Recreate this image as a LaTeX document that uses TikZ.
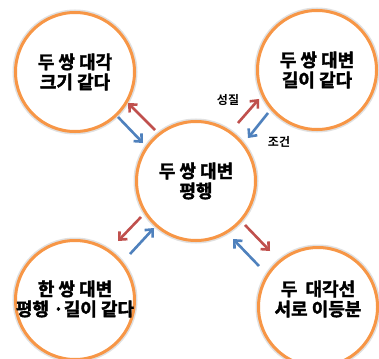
\documentclass[tikz,border=0pt]{standalone}
\usepackage{fontspec}
\newfontfamily\krb{Noto Sans CJK KR Bold}[FakeBold=2]
\newfontfamily\krm{Noto Sans CJK KR Bold}
\usetikzlibrary{arrows.meta}
\definecolor{ring}{HTML}{F79646}
\definecolor{redarr}{HTML}{C0504D}
\definecolor{bluearr}{HTML}{4F81BD}
\tikzset{
  bubble/.style={circle, draw=ring, line width=3pt, fill=white, minimum size=119pt, inner sep=0pt,
    align=center, font=\krb\fontsize{18}{20}\selectfont,
    preaction={draw=black!12, line width=6pt}},
  btext/.style={align=center, font=\krb\fontsize{18}{20}\selectfont, inner sep=0pt},
  prop/.style={draw=redarr, line width=2.6pt, -{Straight Barb[length=6pt,width=11pt,line width=2.6pt]}},
  cond/.style={draw=bluearr, line width=2.6pt, -{Straight Barb[length=6pt,width=11pt,line width=2.6pt]}},
  lab/.style={font=\krm\fontsize{12}{13}\selectfont, inner sep=0pt}
}
\begin{document}
\begin{tikzpicture}[x=1pt,y=-1pt]
\useasboundingbox[fill=white] (0,0) rectangle (379,358);
\node[bubble] (tl) at (75,72) {두 쌍 대각\\크기 같다};
\node[bubble] (tr) at (317,70) {두 쌍 대변\\길이 같다};
\node[bubble] (c) at (196,181) {두 쌍 대변\\평행};
\node[bubble] (bl) at (75,300) {};
\node[bubble] (br) at (318,307) {};
\node[btext] (blt) at (75,299) {한 쌍 대변\\평행 ·길이 같다};
\node[btext] (brt) at (318,299) {두~~대각선\\서로 이등분};
% top-left
\coordinate (a1s) at (155,130); \coordinate (a1e) at (128,103);
\coordinate (b1s) at (118,117); \coordinate (b1e) at (143,143);
\draw[prop] (a1s) -- (a1e);
\draw[cond] (b1s) -- (b1e);
% top-right
\coordinate (a2s) at (238,123); \coordinate (a2e) at (259,99);
\coordinate (b2s) at (268,113); \coordinate (b2e) at (248,138);
\draw[prop] (a2s) -- (a2e);
\draw[cond] (b2s) -- (b2e);
\node[lab] (l1) at (228,100) {성질};
\node[lab] (l2) at (279,142) {조건};
% bottom-left
\coordinate (a3s) at (141,217); \coordinate (a3e) at (118,241);
\coordinate (b3s) at (130,254); \coordinate (b3e) at (154,228);
\draw[prop] (a3s) -- (a3e);
\draw[cond] (b3s) -- (b3e);
% bottom-right
\coordinate (a4s) at (245,225); \coordinate (a4e) at (270,251);
\coordinate (b4s) at (259,266); \coordinate (b4e) at (233,239);
\draw[prop] (a4s) -- (a4e);
\draw[cond] (b4s) -- (b4e);
\end{tikzpicture}
\end{document}
